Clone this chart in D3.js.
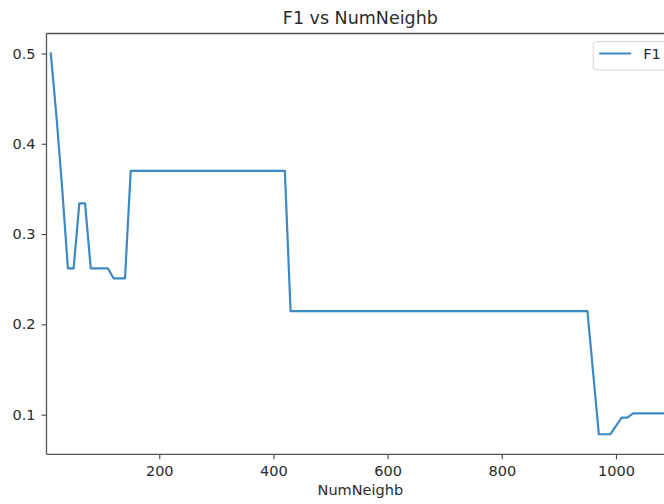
<!DOCTYPE html>
<html>
<head>
<meta charset="utf-8">
<script src="https://cdn.jsdelivr.net/npm/d3@7"></script>
<style>
  html, body { margin: 0; padding: 0; background: #fff; }
  svg { display: block; font-family: "DejaVu Sans", sans-serif; }
</style>
</head>
<body>
<svg id="chart" width="664" height="504"></svg>
<script>
// F1 score as a function of the number of neighbours
const numNeighb = [10, 20, 30, 40, 50, 60, 70, 80, 110, 120, 140, 150, 420, 430, 950, 970, 990, 1010, 1020, 1030, 1100];
const f1Scores  = [0.5, 0.43, 0.35, 0.262, 0.262, 0.334, 0.334, 0.262, 0.262, 0.251, 0.251, 0.370, 0.370, 0.2147, 0.2147, 0.0783, 0.0783, 0.0967, 0.0967, 0.1015, 0.1015];
const xTicks = [200, 400, 600, 800, 1000];
const yTicks = [0.1, 0.2, 0.3, 0.4, 0.5];
const seriesName = "F1";
const titleText = "F1 vs NumNeighb";
const xLabel = "NumNeighb";

const svg = d3.select("#chart");
const plot = { left: 46.5, right: 674.2, top: 33.5, bottom: 454.3 };
const textColor = "#2b2b2b";
const lineColor = "#3c89c4";

const x = d3.scaleLinear().domain([2.5, 1102]).range([plot.left, plot.right]);
const y = d3.scaleLinear().domain([0.0561, 0.5221]).range([plot.bottom, plot.top]);

svg.append("defs").append("clipPath").attr("id", "plotClip")
  .append("rect")
  .attr("x", plot.left).attr("y", plot.top)
  .attr("width", plot.right - plot.left).attr("height", plot.bottom - plot.top);

// data line
const data = numNeighb.map((n, i) => ({ n, v: f1Scores[i] }));
svg.append("path")
  .datum(data)
  .attr("clip-path", "url(#plotClip)")
  .attr("fill", "none")
  .attr("stroke", lineColor)
  .attr("stroke-width", 2.2)
  .attr("stroke-linejoin", "round")
  .attr("stroke-linecap", "square")
  .attr("d", d3.line().x(d => x(d.n)).y(d => y(d.v)));

// axes
const xAxis = svg.append("g")
  .attr("transform", `translate(0,${plot.bottom})`)
  .call(d3.axisBottom(x).tickValues(xTicks).tickSize(5).tickPadding(6).tickFormat(d3.format("d")));
const yAxis = svg.append("g")
  .attr("transform", `translate(${plot.left},0)`)
  .call(d3.axisLeft(y).tickValues(yTicks).tickSize(5).tickPadding(6).tickFormat(d3.format(".1f")));

[xAxis, yAxis].forEach(g => {
  g.select(".domain").remove();
  g.selectAll(".tick line").attr("stroke", "#444").attr("stroke-width", 1.1);
  g.selectAll(".tick text").attr("fill", textColor).style("font-size", "14.5px").style("font-family", "DejaVu Sans");
});

// spines
const spine = svg.append("g").attr("fill", "none").attr("stroke", "#555").attr("stroke-width", 1.3);
spine.append("line").attr("x1", plot.left).attr("x2", plot.left).attr("y1", plot.top).attr("y2", plot.bottom);
spine.append("line").attr("x1", plot.left).attr("x2", plot.right).attr("y1", plot.top).attr("y2", plot.top);
spine.append("line").attr("x1", plot.left).attr("x2", plot.right).attr("y1", plot.bottom).attr("y2", plot.bottom);
spine.append("line").attr("x1", plot.right).attr("x2", plot.right).attr("y1", plot.top).attr("y2", plot.bottom);

// title and axis label
const cx = (plot.left + plot.right) / 2;
svg.append("text")
  .attr("x", cx).attr("y", 24)
  .attr("text-anchor", "middle")
  .attr("fill", textColor)
  .style("font-size", "17.5px")
  .text(titleText);
svg.append("text")
  .attr("x", cx).attr("y", 495)
  .attr("text-anchor", "middle")
  .attr("fill", textColor)
  .style("font-size", "14.5px")
  .text(xLabel);

// legend
const legend = svg.append("g").attr("transform", `translate(${plot.right - 81},${plot.top + 8})`);
legend.append("rect")
  .attr("x", 0).attr("y", 0).attr("width", 74).attr("height", 28.5)
  .attr("rx", 3).attr("ry", 3)
  .attr("fill", "#fff").attr("fill-opacity", 0.8)
  .attr("stroke", "#d6d6d6").attr("stroke-width", 1);
legend.append("line")
  .attr("x1", 6).attr("x2", 38).attr("y1", 12).attr("y2", 12)
  .attr("stroke", lineColor).attr("stroke-width", 2.2);
legend.append("text")
  .attr("x", 50).attr("y", 17.5)
  .attr("fill", textColor)
  .style("font-size", "14.5px")
  .text(seriesName);
</script>
</body>
</html>
